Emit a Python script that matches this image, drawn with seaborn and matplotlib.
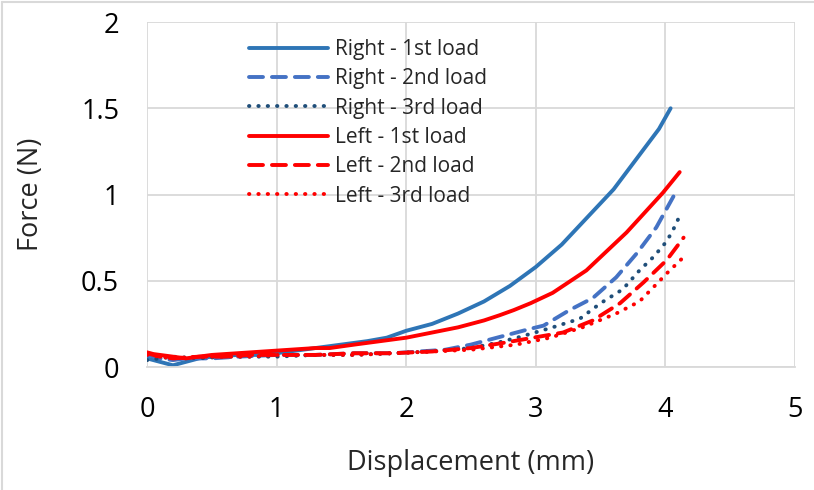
import matplotlib
matplotlib.use("Agg")
import matplotlib.pyplot as plt
from matplotlib.lines import Line2D
from matplotlib.ticker import FuncFormatter, MultipleLocator
import seaborn as sns

# values
right1_x = [0, 0.05, 0.1, 0.2, 0.3, 0.4, 0.5, 0.7, 0.9, 1.1, 1.3, 1.5, 1.7, 1.85, 2.0, 2.1, 2.2, 2.4, 2.6, 2.8, 3.0, 3.2, 3.4, 3.6, 3.8, 3.95, 4.04]
right1_y = [0.05, 0.04, 0.03, 0.01, 0.03, 0.05, 0.06, 0.07, 0.07, 0.09, 0.11, 0.13, 0.15, 0.17, 0.21, 0.23, 0.25, 0.31, 0.38, 0.47, 0.58, 0.71, 0.87, 1.03, 1.23, 1.38, 1.50]

right2_x = [0, 0.1, 0.2, 0.3, 0.5, 0.7, 1.0, 1.3, 1.6, 1.9, 2.1, 2.3, 2.5, 2.65, 2.8, 2.95, 3.06, 3.26, 3.44, 3.62, 3.78, 3.93, 4.07]
right2_y = [0.07, 0.05, 0.04, 0.05, 0.05, 0.06, 0.07, 0.07, 0.08, 0.08, 0.09, 0.10, 0.13, 0.16, 0.19, 0.22, 0.24, 0.33, 0.40, 0.52, 0.66, 0.81, 1.00]

right3_x = [0, 0.1, 0.2, 0.4, 0.6, 0.8, 1.0, 1.3, 1.6, 1.9, 2.2, 2.5, 2.7, 2.88, 3.13, 3.34, 3.5, 3.67, 3.8, 3.91, 4.0, 4.05, 4.10]
right3_y = [0.04, 0.05, 0.06, 0.05, 0.06, 0.06, 0.06, 0.07, 0.07, 0.08, 0.09, 0.11, 0.14, 0.175, 0.23, 0.28, 0.37, 0.45, 0.56, 0.64, 0.72, 0.78, 0.86]

left1_x = [0, 0.05, 0.1, 0.2, 0.3, 0.5, 0.7, 0.9, 1.1, 1.3, 1.41, 1.6, 1.8, 2.0, 2.2, 2.4, 2.6, 2.72, 2.83, 2.96, 3.13, 3.39, 3.70, 3.98, 4.11]
left1_y = [0.085, 0.075, 0.07, 0.06, 0.05, 0.07, 0.08, 0.09, 0.10, 0.11, 0.11, 0.13, 0.15, 0.17, 0.20, 0.23, 0.27, 0.30, 0.33, 0.37, 0.43, 0.56, 0.78, 1.01, 1.13]

left2_x = [0, 0.1, 0.2, 0.4, 0.6, 0.8, 1.0, 1.3, 1.6, 1.9, 2.2, 2.5, 2.75, 2.98, 3.21, 3.44, 3.65, 3.83, 4.01, 4.14]
left2_y = [0.08, 0.06, 0.05, 0.06, 0.06, 0.07, 0.07, 0.07, 0.08, 0.08, 0.09, 0.11, 0.14, 0.17, 0.20, 0.27, 0.37, 0.49, 0.62, 0.75]

left3_x = [0, 0.1, 0.2, 0.4, 0.6, 0.8, 1.0, 1.3, 1.6, 1.9, 2.2, 2.5, 2.85, 3.11, 3.36, 3.62, 3.80, 3.93, 4.02, 4.13]
left3_y = [0.07, 0.06, 0.05, 0.06, 0.06, 0.06, 0.07, 0.07, 0.07, 0.08, 0.09, 0.10, 0.13, 0.17, 0.23, 0.31, 0.38, 0.48, 0.55, 0.63]

labels = ["Right - 1st load", "Right - 2nd load", "Right - 3rd load",
          "Left - 1st load", "Left - 2nd load", "Left - 3rd load"]

sns.set_style("white")
plt.rcParams['font.family'] = ['Open Sans', 'DejaVu Sans']

fig = plt.figure(figsize=(8.14, 4.9), dpi=100)
ax = fig.add_axes([0.1806, 0.251, 0.7961, 0.704])

dashed = (0, (3.6, 2.3))
dotted = (0, (0.1, 2.3))
series = [
    (right1_x, right1_y, "#2E75B6", "-"),
    (right2_x, right2_y, "#4472C4", dashed),
    (right3_x, right3_y, "#1F4E79", dotted),
    (left1_x, left1_y, "#FF0000", "-"),
    (left2_x, left2_y, "#FF0000", dashed),
    (left3_x, left3_y, "#FF0000", dotted),
]
for (xs, ys, col, ls), lab in zip(series, labels):
    sns.lineplot(x=xs, y=ys, ax=ax, sort=False, color=col, linestyle=ls,
                 linewidth=2.8, label=lab, dash_capstyle="round",
                 solid_capstyle="round")

ax.set_xlim(0, 5)
ax.set_ylim(0, 2)
ax.xaxis.set_major_locator(MultipleLocator(1))
ax.yaxis.set_major_locator(MultipleLocator(0.5))
ax.xaxis.set_major_formatter(FuncFormatter(lambda v, p: f"{v:g}"))
ax.yaxis.set_major_formatter(FuncFormatter(lambda v, p: f"{v:g}"))
ax.grid(True, color="#D9D9D9", linewidth=1.3)
ax.set_axisbelow(True)
for s in ["top", "right", "left"]:
    ax.spines[s].set_visible(False)
ax.spines["bottom"].set_color("#D9D9D9")
ax.spines["bottom"].set_linewidth(1.3)
ax.tick_params(axis="both", length=0, labelsize=19.5, colors="black")
ax.tick_params(axis="y", pad=20)
ax.tick_params(axis="x", pad=21)
ax.set_xlabel("Displacement (mm)", fontsize=19.5, labelpad=18)
ax.set_ylabel("Force (N)", fontsize=19.5, labelpad=26)

ax.legend(loc="upper left", bbox_to_anchor=(0.145, 0.975), frameon=False,
          fontsize=15, handlelength=3.8, labelspacing=0.4, handletextpad=0.3,
          borderaxespad=0)

# chart area border (top and left edges visible in the reference)
fig.add_artist(Line2D([0.003, 1], [0.995, 0.995], transform=fig.transFigure, color="#D9D9D9", lw=1.5))
fig.add_artist(Line2D([0.003, 0.003], [0, 0.995], transform=fig.transFigure, color="#D9D9D9", lw=1.5))

fig.savefig("out.png", dpi=100)
